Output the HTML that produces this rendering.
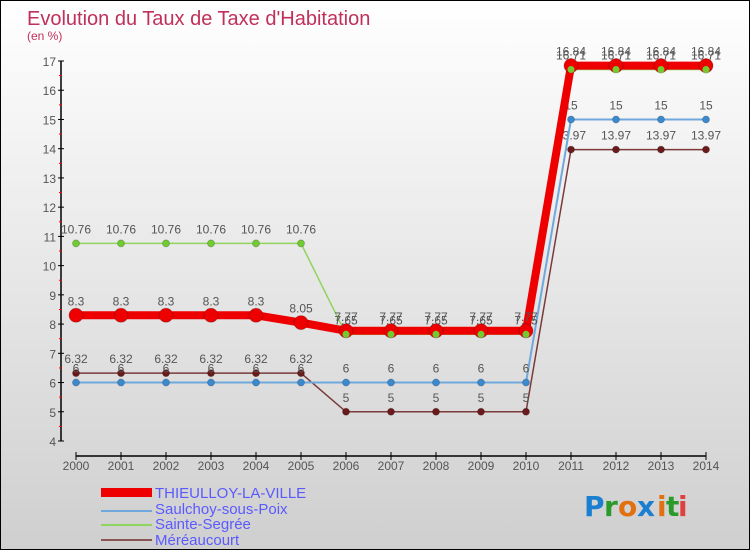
<!DOCTYPE html>
<html><head><meta charset="utf-8"><style>
body{margin:0;}
#c{width:748px;height:548px;border:1px solid #000;background:linear-gradient(#ffffff,#cfcfcf);position:relative;overflow:hidden;font-family:"Liberation Sans",sans-serif;}
</style></head><body>
<div id="c">
<svg id="s" width="748" height="548" style="position:absolute;left:0;top:0">
<text x="26" y="24" font-size="20" fill="#c0305a">Evolution du Taux de Taxe d'Habitation</text>
<text x="26" y="39" font-size="12" fill="#c0305a">(en %)</text>
<g id="ax"></g><g id="series"></g>
<g font-size="15" fill="#5a5aff">
<rect x="100" y="487" width="51" height="9" fill="#ee0000"/>
<text x="154" y="497">THIEULLOY-LA-VILLE</text>
<rect x="100" y="509" width="51" height="2" fill="#6fa8dc"/>
<text x="154" y="513">Saulchoy-sous-Poix</text>
<rect x="100" y="523" width="51" height="2" fill="#8fd45c"/>
<text x="154" y="528">Sainte-Segrée</text>
<rect x="100" y="538" width="51" height="2" fill="#8a5555"/>
<text x="154" y="544">Méréaucourt</text>
</g>
<g font-size="28" font-weight="bold" font-family="'DejaVu Sans',sans-serif">
<text x="583" y="515" fill="#1a7fd0">P</text><text x="603" y="515" fill="#2a9a2a">r</text><text x="617" y="515" fill="#e07010">o</text><text x="636" y="515" fill="#1a7fd0">x</text><text x="656" y="515" fill="#e07010">i</text><text x="665" y="515" fill="#2a9a2a">t</text><text x="677" y="515" fill="#e04040">i</text>
</g>
</svg></div>
<script>
const years=[2000,2001,2002,2003,2004,2005,2006,2007,2008,2009,2010,2011,2012,2013,2014];
const thieulloy=[8.3,8.3,8.3,8.3,8.3,8.05,7.77,7.77,7.77,7.77,7.77,16.84,16.84,16.84,16.84];
const saulchoy=[6,6,6,6,6,6,6,6,6,6,6,15,15,15,15];
const sainteSegree=[10.76,10.76,10.76,10.76,10.76,10.76,7.65,7.65,7.65,7.65,7.65,16.71,16.71,16.71,16.71];
const mereaucourt=[6.32,6.32,6.32,6.32,6.32,6.32,5,5,5,5,5,13.97,13.97,13.97,13.97];
const yTicks=[4,5,6,7,8,9,10,11,12,13,14,15,16,17];
const NS="http://www.w3.org/2000/svg";
const X=i=>75+i*45, Y=v=>440-(v-4)*29.23;
function mk(t,a,p){const e=document.createElementNS(NS,t);for(const k in a)e.setAttribute(k,a[k]);p.appendChild(e);return e;}
const ax=document.getElementById('ax');
let e=mk('line',{x1:60,y1:Y(17),x2:60,y2:Y(4),stroke:'#000','stroke-width':1.5},ax);


e=mk('line',{x1:75,y1:455,x2:705,y2:455,stroke:'#000','stroke-width':1.5},ax);


yTicks.forEach(v=>{
 mk('line',{x1:57,y1:Y(v),x2:63,y2:Y(v),stroke:'#000'},ax);
 if(v<17)mk('line',{x1:58,y1:Y(v+0.5),x2:61,y2:Y(v+0.5),stroke:'#f00'},ax);
 const t=mk('text',{x:55,y:Y(v)+5,'text-anchor':'end','font-size':12,fill:'#555'},ax);t.textContent=v;
 
 
});
years.forEach((y,i)=>{
 mk('line',{x1:X(i),y1:451,x2:X(i),y2:459,stroke:'#000'},ax);
 const t=mk('text',{x:X(i),y:469,'text-anchor':'middle','font-size':12,fill:'#555'},ax);t.textContent=y;
 
 
});
const sg=document.getElementById('series');
function draw(vals,color,w,r,dot,name){
 const g=mk('g',{},sg);
 
 
 mk('polyline',{points:vals.map((v,i)=>X(i)+','+Y(v)).join(' '),fill:'none',stroke:color,'stroke-width':w},g);
 vals.forEach((v,i)=>{
  const c=mk('circle',{cx:X(i),cy:Y(v),r:r,fill:dot,stroke:'rgba(0,0,0,0.2)'},g);
  
  
  const t=mk('text',{x:X(i),y:Y(v)-10,'text-anchor':'middle','font-size':12,fill:'#555'},g);t.textContent=v;
 });
}
draw(mereaucourt,'#7a3a3a',1.5,3.5,'#6a1a1a','series-mereaucourt');
draw(saulchoy,'#6fa8dc',2,3.5,'#3a8ad0','series-saulchoy');
draw(sainteSegree,'#8fd45c',1.5,3.5,'#70cc30','series-sainte-segree');
draw(thieulloy,'#ee0000',8,7,'#ee0000','series-thieulloy');
// redraw green dots over red as in reference
sainteSegree.forEach((v,i)=>{if(i>=6){const c=mk('circle',{cx:X(i),cy:Y(v),r:3.5,fill:'#70cc30'},sg);
 
 }});
</script>
</body></html>
